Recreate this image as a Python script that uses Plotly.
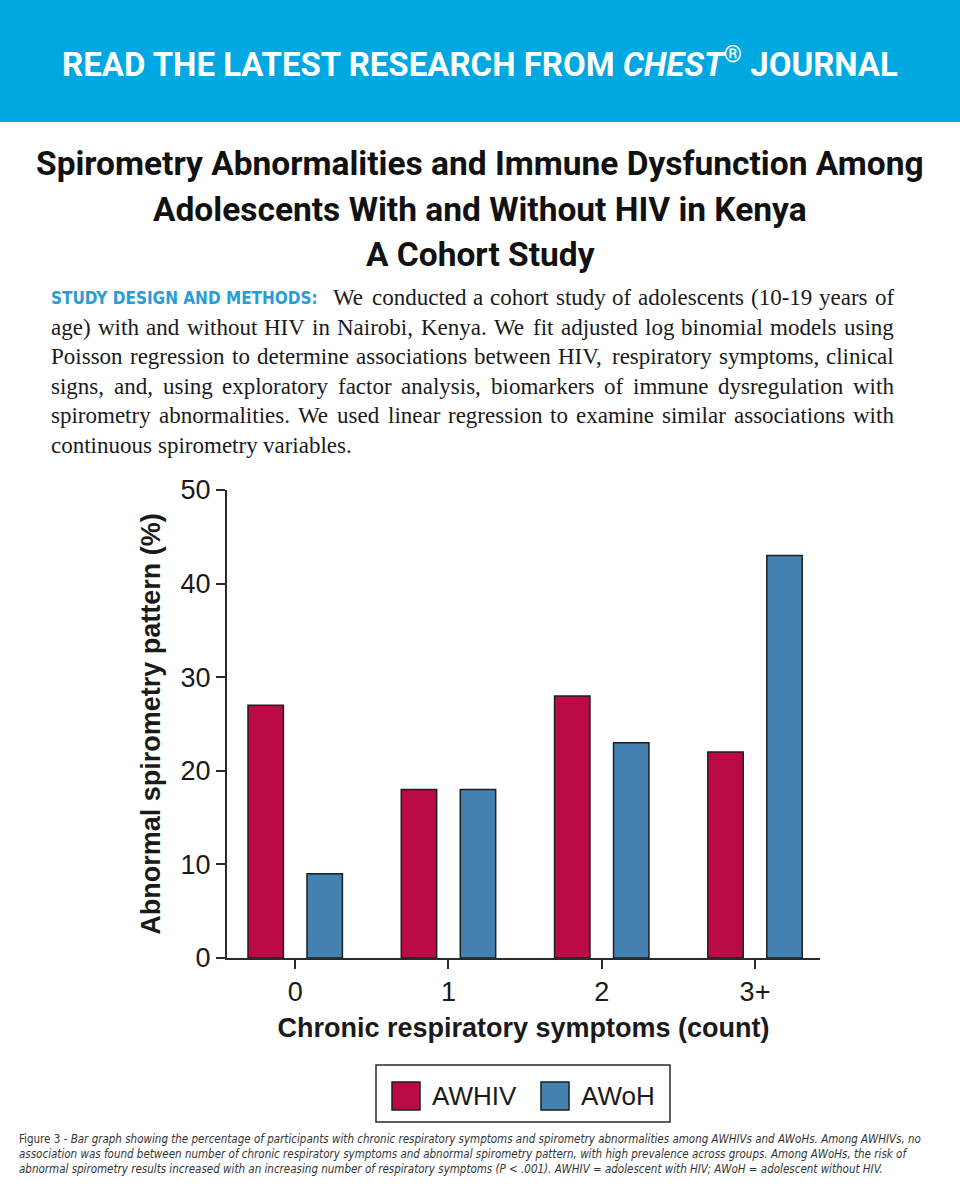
import plotly.graph_objects as go

# ---------------- data ----------------
categories = ["0", "1", "2", "3+"]
awhiv_pct = [27, 18, 28, 22]
awoh_pct = [9, 18, 23, 43]
series_names = ["AWHIV", "AWoH"]
y_tick_values = [0, 10, 20, 30, 40, 50]

banner_text = "READ THE LATEST RESEARCH FROM <i>CHEST</i><sup>®</sup> JOURNAL"
title_lines = [
    "Spirometry Abnormalities and Immune Dysfunction Among",
    "Adolescents With and Without HIV in Kenya",
    "A Cohort Study",
]
methods_label = "STUDY DESIGN AND METHODS:"
methods_lines = [
    "We conducted a cohort study of adolescents (10-19 years of",
    "age) with and without HIV in Nairobi, Kenya. We fit adjusted log binomial models using",
    "Poisson regression to determine associations between HIV, respiratory symptoms, clinical",
    "signs, and, using exploratory factor analysis, biomarkers of immune dysregulation with",
    "spirometry abnormalities. We used linear regression to examine similar associations with",
    "continuous spirometry variables.",
]
caption_lines = [
    "Figure 3 - <i>Bar graph showing the percentage of participants with chronic respiratory symptoms and spirometry abnormalities among AWHIVs and AWoHs. Among AWHIVs, no</i>",
    "<i>association was found between number of chronic respiratory symptoms and abnormal spirometry pattern, with high prevalence across groups. Among AWoHs, the risk of</i>",
    "<i>abnormal spirometry results increased with an increasing number of respiratory symptoms (P &lt; .001). AWHIV = adolescent with HIV; AWoH = adolescent without HIV.</i>",
]

# ---------------- geometry helpers ----------------
W, H = 960, 1200
L, R, T, B = 227, 820, 490, 958
PW, PH = R - L, B - T


def px(x):
    return (x - L) / PW


def py(y):
    return (B - y) / PH


RED = "#BA0A47"
BLUE = "#4381B0"
EDGE = "#1E1E1E"
AXIS = "#2A2A2A"
SANS = "Liberation Sans, Arial, Helvetica, sans-serif"
SERIF = "Liberation Serif, Times New Roman, serif"

fig = go.Figure()
fig.add_trace(go.Bar(x=categories, y=awhiv_pct, name=series_names[0],
                     marker=dict(color=RED, line=dict(color=EDGE, width=1.5))))
fig.add_trace(go.Bar(x=categories, y=awoh_pct, name=series_names[1],
                     marker=dict(color=BLUE, line=dict(color=EDGE, width=1.5))))

fig.update_layout(
    width=W, height=H,
    margin=dict(l=L, r=W - R, t=T, b=H - B, pad=0),
    barmode="group", bargap=0.23, bargroupgap=0.4,
    showlegend=False,
    plot_bgcolor="white", paper_bgcolor="white",
)
fig.update_xaxes(
    type="category", range=[-0.445, 3.424],
    showline=True, linecolor=AXIS, linewidth=2,
    ticks="outside", ticklen=9, tickwidth=2, tickcolor=AXIS,
    tickfont=dict(family=SANS, size=27, color="#1A1A1A"),
    showgrid=False, zeroline=False,
    title=dict(text="<b>Chronic respiratory symptoms (count)</b>",
               font=dict(family=SANS, size=27, color="#1A1A1A"), standoff=12),
)
fig.update_yaxes(
    range=[0, 50], tickvals=y_tick_values,
    showline=True, linecolor=AXIS, linewidth=2,
    ticks="outside", ticklen=9, tickwidth=2, tickcolor=AXIS,
    tickfont=dict(family=SANS, size=27, color="#1A1A1A"),
    showgrid=False, zeroline=False,
    title=dict(text="<b>Abnormal spirometry pattern (%)</b>",
               font=dict(family=SANS, size=27, color="#1A1A1A"), standoff=12),
)

shapes = []
annotations = []

# banner
shapes.append(dict(type="rect", xref="paper", yref="paper",
                   x0=px(0), x1=px(W), y0=py(0), y1=py(122),
                   fillcolor="#00A8E1", line=dict(width=0), layer="below"))
annotations.append(dict(xref="paper", yref="paper", x=px(480), y=py(63),
                        xanchor="center", yanchor="middle", showarrow=False,
                        text=banner_text,
                        font=dict(family="Roboto, sans-serif", size=33, color="white", weight=700)))

# title
for txt, yy in zip(title_lines, [163, 210, 254]):
    annotations.append(dict(xref="paper", yref="paper", x=px(480), y=py(yy),
                            xanchor="center", yanchor="middle", showarrow=False,
                            text="<b>%s</b>" % txt,
                            font=dict(family="Roboto, sans-serif", size=33.5, color="#111111")))

# justified serif paragraph (Times metrics)
TW = {" ": 250, "!": 333, "(": 333, ")": 333, ",": 250, "-": 333, ".": 250, ":": 278, ";": 278}
for d in "0123456789":
    TW[d] = 500
TW.update(dict(a=444, b=500, c=444, d=500, e=444, f=333, g=500, h=500, i=278, j=278, k=500,
               l=278, m=778, n=500, o=500, p=500, q=500, r=333, s=389, t=278, u=500, v=500,
               w=722, x=500, y=500, z=444))
TW.update(dict(A=722, B=667, C=667, D=722, E=611, F=556, G=722, H=722, I=333, J=389, K=722,
               L=611, M=889, N=722, O=722, P=556, Q=722, R=667, S=556, T=611, U=722, V=722,
               W=944, X=722, Y=722, Z=611))
SERIF_SIZE = 23


def word_w(wd):
    return sum(TW.get(c, 500) for c in wd) * SERIF_SIZE / 1000.0


annotations.append(dict(xref="paper", yref="paper", x=px(50), y=py(298),
                        xanchor="left", yanchor="middle", showarrow=False, borderpad=0,
                        text="<b>%s</b>" % methods_label,
                        font=dict(family="DejaVu Sans Condensed, DejaVu Sans, sans-serif",
                                  size=17, color="#2B9BD5")))
line_y = [298, 328, 357, 387, 416, 446]
for i, (txt, yy) in enumerate(zip(methods_lines, line_y)):
    x0 = 332 if i == 0 else 50
    x1 = 893
    words = txt.split(" ")
    widths = [word_w(wd) for wd in words]
    justify = i < len(methods_lines) - 1
    if justify and len(words) > 1:
        gap = (x1 - x0 - sum(widths)) / (len(words) - 1)
    else:
        gap = TW[" "] * SERIF_SIZE / 1000.0
    xc = x0
    for wd, ww in zip(words, widths):
        annotations.append(dict(xref="paper", yref="paper", x=px(xc), y=py(yy),
                                xanchor="left", yanchor="middle", showarrow=False, borderpad=0,
                                text=wd, font=dict(family=SERIF, size=SERIF_SIZE, color="#1A1A1A")))
        xc += ww + gap

# legend (custom, large swatches)
shapes.append(dict(type="rect", xref="paper", yref="paper",
                   x0=px(376), x1=px(670), y0=py(1122), y1=py(1065),
                   fillcolor="white", line=dict(color=AXIS, width=1.5)))
for name, col, sx, tx in zip(series_names, [RED, BLUE], [392, 541], [431, 580]):
    shapes.append(dict(type="rect", xref="paper", yref="paper",
                       x0=px(sx), x1=px(sx + 28), y0=py(1110), y1=py(1082),
                       fillcolor=col, line=dict(color=EDGE, width=1.5)))
    annotations.append(dict(xref="paper", yref="paper", x=px(tx), y=py(1096),
                            xanchor="left", yanchor="middle", showarrow=False, borderpad=0,
                            text=name, font=dict(family=SANS, size=26, color="#1A1A1A")))

# caption
for txt, yy in zip(caption_lines, [1139, 1154, 1169]):
    annotations.append(dict(xref="paper", yref="paper", x=px(18), y=py(yy),
                            xanchor="left", yanchor="middle", showarrow=False, borderpad=0,
                            text=txt,
                            font=dict(family="DejaVu Sans Condensed, DejaVu Sans, sans-serif",
                                      size=11.5, color="#333333")))

fig.update_layout(shapes=shapes, annotations=annotations)
fig.write_html("out.html",
               config={"displayModeBar": False},
               post_script="document.body.style.margin='0';document.body.style.padding='0';")
